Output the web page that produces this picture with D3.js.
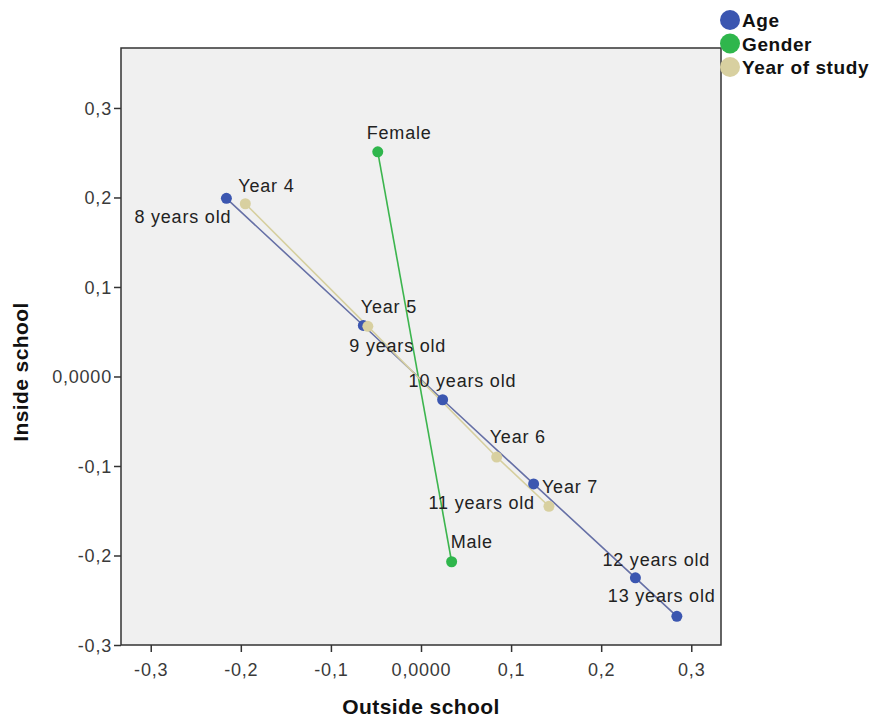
<!DOCTYPE html>
<html>
<head>
<meta charset="utf-8">
<script src="https://cdn.jsdelivr.net/npm/d3@7"></script>
<style>
  body { margin: 0; background: #fff; }
  svg text { font-family: "Liberation Sans", Arial, sans-serif; fill: #222; }
  .pt-label, .tick-label { font-size: 18px; letter-spacing: 0.8px; }
  .axis-title { font-size: 21px; font-weight: bold; letter-spacing: 0.4px; fill: #111; }
  .legend-text { font-size: 19px; font-weight: bold; letter-spacing: 0.6px; fill: #111; }
</style>
</head>
<body>
<div id="chart"></div>
<script>
// Category quantifications
var ageCats = ['8 years old', '9 years old', '10 years old', '11 years old', '12 years old', '13 years old'];
var ageX = [-0.216, -0.064, 0.024, 0.125, 0.238, 0.284];
var ageY = [0.199, 0.057, -0.026, -0.120, -0.225, -0.268];

var genderCats = ['Female', 'Male'];
var genderX = [-0.048, 0.034];
var genderY = [0.251, -0.207];

var yearCats = ['Year 4', 'Year 5', 'Year 6', 'Year 7'];
var yearX = [-0.195, -0.059, 0.084, 0.142];
var yearY = [0.193, 0.056, -0.090, -0.145];

var xTicks = [-0.3, -0.2, -0.1, 0, 0.1, 0.2, 0.3];
var yTicks = [-0.3, -0.2, -0.1, 0, 0.1, 0.2, 0.3];
var legendNames = ['Age', 'Gender', 'Year of study'];

// label placement (px, relative to the point)
var labelOffsets = {
  '8 years old': [-92, 25], '9 years old': [-14, 27], '10 years old': [-34, -13],
  '11 years old': [-105, 25], '12 years old': [-33, -12], '13 years old': [-69, -14],
  'Female': [-11, -13], 'Male': [-1, -14],
  'Year 4': [-7, -12], 'Year 5': [-7, -13], 'Year 6': [-7, -14], 'Year 7': [-7, -13]
};

var series = [
  {name: 'Age', cats: ageCats, xs: ageX, ys: ageY, dot: '#3b56b0', line: '#6670a6'},
  {name: 'Gender', cats: genderCats, xs: genderX, ys: genderY, dot: '#2fb64c', line: '#3cb54e'},
  {name: 'Year of study', cats: yearCats, xs: yearX, ys: yearY, dot: '#d8d0a0', line: '#d6cf9f'}
];

var width = 872, height = 722;
var frame = {left: 121, right: 721, top: 48, bottom: 645};

var svg = d3.select('#chart').append('svg')
    .attr('width', width)
    .attr('height', height);

var x = d3.scaleLinear()
    .domain([-0.333, 0.333])
    .range([frame.left, frame.right]);
var y = d3.scaleLinear()
    .domain([-0.3, 0.367])
    .range([frame.bottom, frame.top]);

var fmt = function(v) {
  if (Math.abs(v) < 1e-9) return '0,0000';
  return d3.format('.1f')(v).replace('.', ',').replace('−', '-');
};

// plot background
svg.append('rect')
    .attr('x', frame.left).attr('y', frame.top)
    .attr('width', frame.right - frame.left)
    .attr('height', frame.bottom - frame.top)
    .attr('fill', '#f0f0f0');

// axes
var xAxis = d3.axisBottom(x).tickValues(xTicks).tickSize(7).tickPadding(6).tickFormat(fmt);
var yAxis = d3.axisLeft(y).tickValues(yTicks).tickSize(7).tickPadding(2).tickFormat(fmt);

var gX = svg.append('g')
    .attr('transform', 'translate(0,' + frame.bottom + ')')
    .call(xAxis);
var gY = svg.append('g')
    .attr('transform', 'translate(' + frame.left + ',0)')
    .call(yAxis);

[gX, gY].forEach(function(g) {
  g.select('.domain').remove();
  g.selectAll('.tick line').attr('stroke', '#333').attr('stroke-width', 1.5);
  g.selectAll('.tick text')
      .attr('class', 'tick-label')
      .attr('font-family', null).attr('font-size', null)
      .style('fill', '#3a3a3a');
});
gX.selectAll('.tick text').attr('dy', '1em');
gY.selectAll('.tick text').attr('dy', '0.35em');

// frame
svg.append('rect')
    .attr('x', frame.left).attr('y', frame.top)
    .attr('width', frame.right - frame.left)
    .attr('height', frame.bottom - frame.top)
    .attr('fill', 'none')
    .attr('stroke', '#333')
    .attr('stroke-width', 1.5);

// axis titles
svg.append('text')
    .attr('class', 'axis-title')
    .attr('x', x(0)).attr('y', 714)
    .attr('text-anchor', 'middle')
    .text('Outside school');
svg.append('text')
    .attr('class', 'axis-title')
    .attr('transform', 'translate(28,' + y(0.005) + ') rotate(-90)')
    .attr('text-anchor', 'middle')
    .text('Inside school');

// lines
var line = d3.line()
    .x(function(d) { return x(d[0]); })
    .y(function(d) { return y(d[1]); });

var gLines = svg.append('g').attr('class', 'lines');
series.forEach(function(s) {
  gLines.append('path')
      .datum(d3.zip(s.xs, s.ys))
      .attr('d', line)
      .attr('fill', 'none')
      .attr('stroke', s.line)
      .attr('stroke-width', 1.6);
});

// points
var gPts = svg.append('g').attr('class', 'points');
series.forEach(function(s) {
  gPts.selectAll('circle.' + s.name.replace(/ /g, ''))
      .data(d3.zip(s.xs, s.ys))
      .enter()
      .append('circle')
        .attr('cx', function(d) { return x(d[0]); })
        .attr('cy', function(d) { return y(d[1]); })
        .attr('r', 5.5)
        .attr('fill', s.dot);
});

// point labels
var gLabs = svg.append('g').attr('class', 'labels');
series.forEach(function(s) {
  s.cats.forEach(function(c, i) {
    var off = labelOffsets[c];
    gLabs.append('text')
        .attr('class', 'pt-label')
        .attr('x', x(s.xs[i]) + off[0])
        .attr('y', y(s.ys[i]) + off[1])
        .text(c);
  });
});

// legend
var legend = svg.append('g').attr('class', 'legend');
legendNames.forEach(function(n, i) {
  var s = series[i];
  legend.append('circle')
      .attr('cx', 730).attr('cy', 20 + i * 23.5)
      .attr('r', 10)
      .attr('fill', s.dot);
  legend.append('text')
      .attr('class', 'legend-text')
      .attr('x', 742).attr('y', 27 + i * 23.5)
      .text(n);
});
</script>
</body>
</html>
